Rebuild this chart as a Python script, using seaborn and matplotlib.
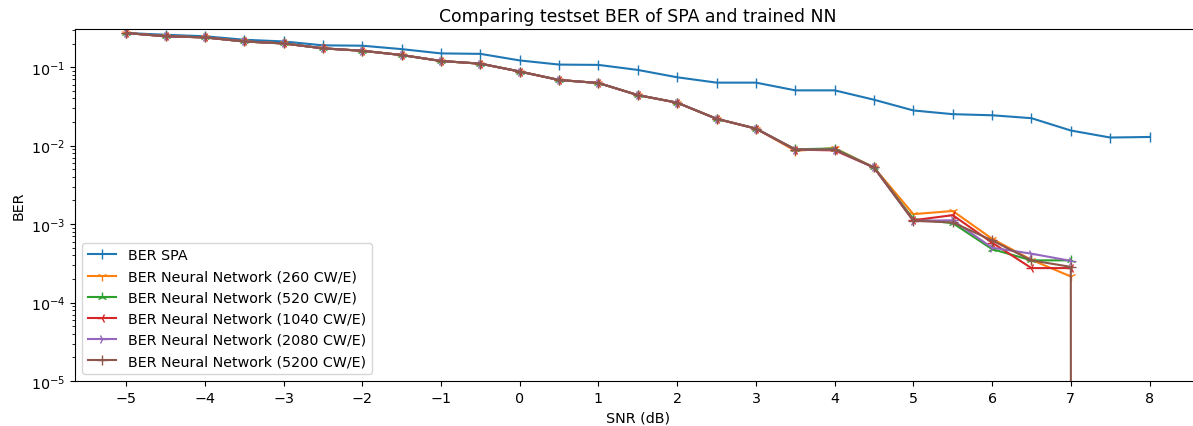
import numpy as np
import matplotlib
matplotlib.use("Agg")
import matplotlib.pyplot as plt
import seaborn as sns

snr = [-5.0, -4.5, -4.0, -3.5, -3.0, -2.5, -2.0, -1.5, -1.0, -0.5, 0.0, 0.5, 1.0,
       1.5, 2.0, 2.5, 3.0, 3.5, 4.0, 4.5, 5.0, 5.5, 6.0, 6.5, 7.0, 7.5, 8.0]

ber_spa = [0.273, 0.259, 0.248, 0.224, 0.213, 0.190, 0.188, 0.170, 0.150, 0.148,
           0.122, 0.108, 0.107, 0.0923, 0.0744, 0.0636, 0.0636, 0.0507, 0.0507,
           0.0385, 0.0281, 0.0252, 0.0244, 0.0224, 0.0156, 0.0127, 0.0129]

nn_common = [0.273, 0.248, 0.240, 0.213, 0.201, 0.174, 0.162, 0.143, 0.120, 0.111,
             0.0881, 0.0687, 0.0629, 0.0441, 0.0353, 0.0220, 0.0165]

ber_nn_260 = nn_common + [0.0086, 0.0093, 0.00527, 1.34e-3, 1.47e-3, 6.5e-4, 3.5e-4, 2.15e-4]
ber_nn_520 = nn_common + [0.0090, 0.0092, 0.00527, 1.16e-3, 1.03e-3, 4.8e-4, 3.45e-4, 3.45e-4]
ber_nn_1040 = nn_common + [0.0089, 0.0087, 0.00527, 1.12e-3, 1.30e-3, 5.8e-4, 2.75e-4, 2.75e-4]
ber_nn_2080 = nn_common + [0.0089, 0.0089, 0.00527, 1.10e-3, 1.12e-3, 5.0e-4, 4.2e-4, 3.4e-4]
ber_nn_5200 = nn_common + [0.0089, 0.0089, 0.00527, 1.10e-3, 1.05e-3, 6.2e-4, 3.45e-4, 2.85e-4, 0.0]

labels = ["BER SPA",
          "BER Neural Network (260 CW/E)",
          "BER Neural Network (520 CW/E)",
          "BER Neural Network (1040 CW/E)",
          "BER Neural Network (2080 CW/E)",
          "BER Neural Network (5200 CW/E)"]
series = [ber_spa, ber_nn_260, ber_nn_520, ber_nn_1040, ber_nn_2080, ber_nn_5200]
markers = ["|", "1", "2", "3", "4", "+"]
colors = ["#1f77b4", "#ff7f0e", "#2ca02c", "#d62728", "#9467bd", "#8c564b"]

plt.rcParams["font.size"] = 10.3

fig = plt.figure(figsize=(11.93, 4.27), dpi=100)
ax = fig.add_axes([75 / 1193, 45 / 427, (1200.7 - 75) / 1193, 352 / 427])

for lab, vals, mk, col in zip(labels, series, markers, colors):
    sns.lineplot(x=snr[:len(vals)], y=vals, ax=ax, color=col, marker=mk,
                 markersize=6.5, markeredgecolor=col, markeredgewidth=1.0,
                 linewidth=1.5, label=lab, estimator=None)

ax.set_yscale("log")
ax.set_xlim(-5.65, 8.65)
ax.set_ylim(1e-5, 0.307)
ax.set_xticks(np.arange(-5, 9, 1))
ax.set_xlabel("SNR (dB)")
ax.set_ylabel("BER")
ax.set_title("Comparing testset BER of SPA and trained NN", fontsize=12.4)
ax.legend(loc="lower left")

fig.savefig("out.png", dpi=100)
